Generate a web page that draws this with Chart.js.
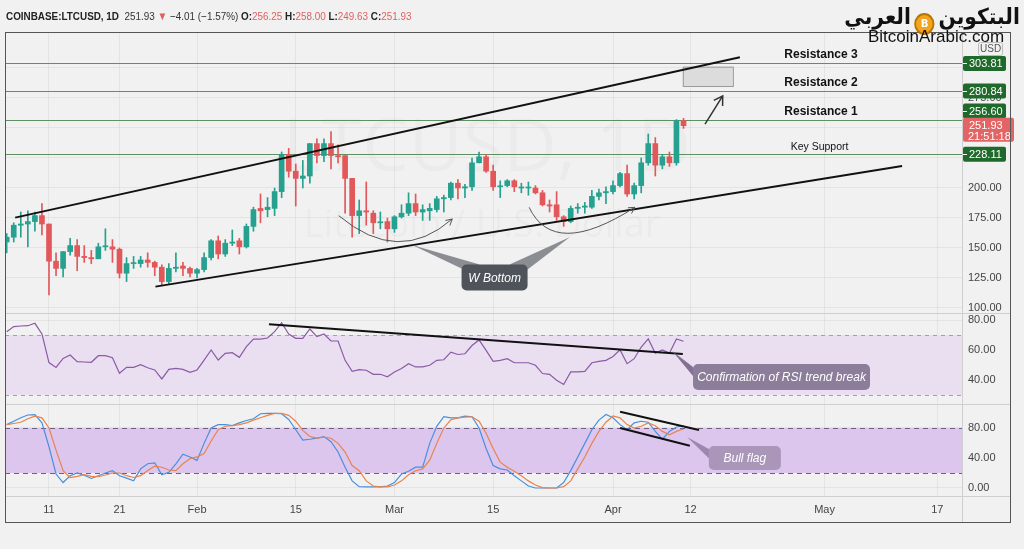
<!DOCTYPE html>
<html>
<head>
<meta charset="utf-8">
<script src="https://cdn.jsdelivr.net/npm/chart.js@4.4.0/dist/chart.umd.min.js"></script>
<style>
  body { margin: 0; background: #f1f1f1; width: 1024px; height: 549px; overflow: hidden; position: relative; font-family: "Liberation Sans", Arial, sans-serif; }
  #chart { position: absolute; left: 0; top: 0; }
  #hdr { position: absolute; left: 6px; top: 10px; font-size: 11.5px; color: #333; white-space: nowrap; transform: scaleX(0.86); transform-origin: left top; }
  #hdr b { font-weight: bold; color: #222; }
  #hdr .r { color: #e06060; }
  #logo { position: absolute; right: 4px; top: 4px; direction: rtl; font-family: "DejaVu Sans", sans-serif; font-weight: bold; font-size: 22px; color: #111; white-space: nowrap; transform: scaleX(0.92); transform-origin: right top; }
  #logo .coin { display: inline-block; width: 18px; height: 18px; border-radius: 50%; background: #f2a41c; border: 2px solid #b87500; vertical-align: -3px; margin: 0 4px; color: #fff; font-size: 11px; line-height: 18px; text-align: center; direction: ltr; }
  #site { position: absolute; left: 868px; top: 27px; font-size: 17px; color: #111; }
</style>
</head>
<body>
<canvas id="chart" width="1024" height="549"></canvas>
<div id="hdr"><b>COINBASE:LTCUSD, 1D</b>&nbsp; 251.93 <span class="r">▼</span> −4.01 (−1.57%) <b>O:</b><span class="r">256.25</span> <b>H:</b><span class="r">258.00</span> <b>L:</b><span class="r">249.63</span> <b>C:</b><span class="r">251.93</span></div>
<div id="logo"><span>البتكوين</span><span class="coin">B</span><span>العربي</span></div>
<div id="site">BitcoinArabic.com</div>
<script>
// daily candles, Jan 5 -> Apr 11 2021 (day 0 = Jan 1)
const firstDay = 4;

const openP = [
  155, 159, 169, 170, 172, 177, 170, 139, 133, 147,
  152, 143, 142, 141, 151, 151, 149, 129, 137, 137,
  140, 138, 134, 122, 133, 135, 133, 129, 132, 142,
  156, 145, 154, 156, 151, 168, 183, 182, 183, 197,
  228, 214, 208, 210, 237, 227, 237, 227, 227, 208,
  177, 181, 179, 171, 172, 166, 176, 179, 187, 180,
  181, 182, 191, 192, 204, 200, 201, 221, 226, 214,
  201, 202, 206, 200, 200, 200, 196, 186, 186, 176,
  172, 183, 184, 184, 193, 196, 197, 202, 212, 195,
  202, 221, 237, 219, 226, 221, 256.25
];
const highP = [
  162, 171, 180, 181, 180, 187, 170, 146, 147, 158,
  157, 152, 148, 154, 166, 157, 150, 142, 143, 143,
  146, 139, 136, 137, 146, 138, 134, 133, 146, 157,
  160, 157, 165, 158, 170, 184, 195, 192, 200, 230,
  233, 220, 223, 237, 241, 241, 247, 236, 227, 208,
  190, 205, 181, 180, 175, 177, 186, 196, 195, 186,
  187, 193, 194, 205, 207, 203, 225, 230, 228, 219,
  206, 207, 207, 204, 205, 202, 198, 190, 197, 177,
  185, 187, 188, 198, 199, 201, 206, 213, 219, 204,
  225, 245, 242, 228, 230, 257, 258
];
const lowP = [
  146, 155, 159, 151, 164, 161, 111, 127, 126, 144,
  131, 138, 137, 141, 148, 138, 125, 122, 133, 134,
  134, 127, 119, 120, 130, 127, 126, 125, 130, 140,
  141, 143, 152, 145, 150, 164, 171, 176, 177, 192,
  209, 185, 200, 204, 221, 222, 216, 221, 179, 159,
  162, 169, 162, 166, 155, 163, 175, 177, 177, 173,
  173, 180, 180, 190, 191, 192, 198, 221, 213, 198,
  192, 201, 197, 196, 194, 195, 185, 180, 173, 168,
  171, 179, 179, 183, 190, 187, 195, 201, 193, 191,
  196, 219, 210, 216, 218, 219, 249.63
];
const closeP = [
  159, 169, 170, 172, 177, 170, 139, 133, 147, 152,
  143, 142, 141, 151, 151, 149, 129, 137, 137, 140,
  138, 134, 122, 133, 134, 133, 129, 132, 142, 156,
  145, 154, 155, 151, 168, 182, 181, 184, 197, 228,
  214, 208, 210, 237, 227, 237, 227, 226, 208, 177,
  181, 180, 171, 171, 166, 176, 179, 187, 180, 182,
  183, 191, 192, 204, 200, 201, 221, 226, 214, 201,
  201, 206, 201, 200, 200, 196, 186, 185, 176, 172,
  183, 184, 185, 193, 196, 197, 202, 212, 195, 202,
  221, 237, 219, 226, 221, 256.25, 251.93
];

const rsi = [
  72.2, 75.6, 76.0, 76.2, 77.8, 70.7, 51.6, 48.4, 54.4, 56.7,
  52.2, 52.0, 51.8, 56.2, 56.2, 54.9, 44.5, 48.4, 48.4, 50.2,
  48.2, 46.7, 40.7, 47.1, 47.8, 47.1, 45.1, 46.7, 53.3, 60.0,
  53.3, 57.8, 58.2, 55.1, 62.2, 67.3, 67.3, 68.0, 72.2, 78.2,
  70.7, 67.8, 67.8, 74.0, 68.9, 70.7, 66.0, 66.0, 53.1, 45.8,
  46.9, 46.5, 43.8, 43.8, 42.1, 45.4, 47.6, 50.9, 48.7, 48.7,
  49.8, 53.1, 53.5, 58.6, 57.0, 57.5, 63.0, 66.7, 59.7, 52.4,
  53.1, 54.2, 51.5, 51.5, 51.5, 49.8, 44.3, 43.8, 39.9, 37.0,
  45.4, 45.4, 45.8, 51.5, 52.4, 53.1, 55.7, 60.1, 50.9, 54.2,
  61.9, 67.4, 57.9, 60.1, 57.9, 67.4, 65.8
];
const stochK = [
  84.5, 89, 93.6, 97.3, 97.7, 86.8, 55, 18.6, 7.3, 16.4,
  20, 17, 12.7, 16.4, 20, 23.2, 16.4, 13.2, 9.5, 25.5,
  32.3, 33.6, 17.7, 20.9, 32.3, 45, 41.4, 36.8, 59.5, 80,
  84.5, 84.5, 83.2, 86.8, 90, 92.3, 99, 99.5, 99.5, 99,
  91.4, 77.7, 64, 65, 66.4, 68.6, 61.8, 48, 27.7, 9.5,
  1.8, 1.4, 1.4, 1.4, 2.7, 7.3, 18.6, 22.3, 27.7, 27.7,
  59.5, 82.3, 95, 93.6, 93.6, 95.9, 95, 80, 52.7, 30,
  25.5, 24, 16.4, 9.5, 2.7, 0, 0, 0, 0, 7.3,
  23.2, 41.4, 59.5, 77.7, 90.5, 98, 93.6, 84.5, 77.7, 86.8,
  89, 87.7, 75.5, 65, 75.5, 81.4, 83
];
const stochD = [
  84.5, 86, 87.7, 92.3, 95.9, 93.6, 80, 50.5, 23, 14,
  15.5, 17.7, 15.5, 15, 17.3, 20, 20, 16.4, 14, 16.4,
  23.2, 29, 27.7, 24, 23.2, 32.3, 39, 41.4, 46, 62.7,
  77.7, 82.3, 83.2, 84.5, 86.8, 90.5, 93.6, 96.8, 99.5, 99.5,
  96.8, 89, 76.8, 68.6, 66.4, 67.7, 66.4, 59.5, 48, 30,
  23, 9.5, 2.7, 1.4, 1.4, 4, 9.5, 17.7, 23, 25.5,
  37, 59.5, 80, 91, 93.6, 94.5, 95, 89, 73, 52.7,
  34.5, 27.7, 22.3, 16.4, 9.5, 4, 0.5, 0, 0, 1.8,
  9.5, 25.5, 41.4, 59.5, 75.5, 87.7, 96, 93.6, 84.5, 80,
  82.3, 86.8, 83, 75.5, 71, 75.5, 78.6
];

const tickDays = [10, 20, 31, 45, 59, 73, 90, 101, 120, 136];
const tickLabels = ["11", "21", "Feb", "15", "Mar", "15", "Apr", "12", "May", "17"];
const priceTicks = [100, 125, 150, 175, 200, 225, 250, 275, 300];
const rsiTicks = [40, 60, 80];
const stochTicks = [0, 40, 80];

// drawings (day, value)
const channelUpper = [{ x: 5.2, y: 175.3 }, { x: 108.0, y: 308.9 }];
const channelLower = [{ x: 25.1, y: 117.8 }, { x: 131.0, y: 218.3 }];
const rsiTrend = [{ x: 41.2, y: 77.1 }, { x: 99.9, y: 57.3 }];
const flagUpper = [{ x: 91.0, y: 101.7 }, { x: 102.2, y: 77.3 }];
const flagLower = [{ x: 91.0, y: 80 }, { x: 100.9, y: 56.4 }];

const levels = [303.81, 280.84, 256.60, 228.11];
const levelNames = ["Resistance 3", "Resistance 2", "Resistance 1", "Key Support"];
const lastPrice = 251.93;

const days = closeP.map((_, i) => firstDay + i);
const candleColor = closeP.map((c, i) => (c >= openP[i] ? "#26a08f" : "#e2585a"));

const GREEN_LINE = "#5f8f63";

function xy(chart, axis, x, y) {
  return [chart.scales.x.getPixelForValue(x), chart.scales[axis].getPixelForValue(y)];
}

function roundRect(ctx, x, y, w, h, r) {
  ctx.beginPath();
  ctx.moveTo(x + r, y);
  ctx.arcTo(x + w, y, x + w, y + h, r);
  ctx.arcTo(x + w, y + h, x, y + h, r);
  ctx.arcTo(x, y + h, x, y, r);
  ctx.arcTo(x, y, x + w, y, r);
  ctx.closePath();
}

function callout(ctx, cx, cy, w, h, fill, tailFill, tails, text) {
  const left = cx - w / 2, top = cy - h / 2;
  ctx.fillStyle = tailFill;
  tails.forEach((t) => {
    ctx.beginPath();
    ctx.moveTo(t.tip[0], t.tip[1]);
    ctx.lineTo(left + t.a[0], top + t.a[1]);
    ctx.lineTo(left + t.b[0], top + t.b[1]);
    ctx.closePath();
    ctx.fill();
  });
  ctx.fillStyle = fill;
  roundRect(ctx, left, top, w, h, 5);
  ctx.fill();
  ctx.fillStyle = "#fff";
  ctx.font = 'italic 12px "Liberation Sans", Arial, sans-serif';
  ctx.textAlign = "center";
  ctx.textBaseline = "middle";
  ctx.fillText(text, cx, cy + 1);
}

function curveArrow(chart, p0, c, p2) {
  const ctx = chart.ctx;
  const a = xy(chart, "y", p0[0], p0[1]);
  const b = xy(chart, "y", c[0], c[1]);
  const e = xy(chart, "y", p2[0], p2[1]);
  ctx.strokeStyle = "#555";
  ctx.lineWidth = 1;
  ctx.beginPath();
  ctx.moveTo(a[0], a[1]);
  ctx.quadraticCurveTo(b[0], b[1], e[0], e[1]);
  ctx.stroke();
  const ang = Math.atan2(e[1] - b[1], e[0] - b[0]);
  ctx.beginPath();
  ctx.moveTo(e[0] - 7 * Math.cos(ang - 0.5), e[1] - 7 * Math.sin(ang - 0.5));
  ctx.lineTo(e[0], e[1]);
  ctx.lineTo(e[0] - 7 * Math.cos(ang + 0.5), e[1] - 7 * Math.sin(ang + 0.5));
  ctx.stroke();
}

const paneDecor = {
  id: "paneDecor",
  beforeDatasetsDraw(chart) {
    const { ctx, chartArea: a, scales } = chart;
    const R = scales.rsi, S = scales.stoch, P = scales.y;
    ctx.save();

    // watermark
    ctx.fillStyle = "rgba(0,0,0,0.022)";
    ctx.textAlign = "center";
    ctx.textBaseline = "middle";
    ctx.font = '74px "Open Sans", sans-serif';
    ctx.fillText("LTCUSD, 1D", 487, 150);
    ctx.font = '38px "Open Sans", sans-serif';
    ctx.fillText("Litecoin / U.S. Dollar", 482, 226);

    // RSI band 70-30
    let y1 = R.getPixelForValue(70), y2 = R.getPixelForValue(30);
    ctx.fillStyle = "#eadff1";
    ctx.fillRect(a.left, y1, a.right - a.left, y2 - y1);
    ctx.strokeStyle = "#a99bb3";
    ctx.setLineDash([4, 4]);
    ctx.lineWidth = 1;
    [y1, y2].forEach((y) => {
      ctx.beginPath(); ctx.moveTo(a.left, Math.round(y) + 0.5); ctx.lineTo(a.right, Math.round(y) + 0.5); ctx.stroke();
    });

    // Stoch band 80-20
    y1 = S.getPixelForValue(80); y2 = S.getPixelForValue(20);
    ctx.fillStyle = "#dcc6ee";
    ctx.fillRect(a.left, y1, a.right - a.left, y2 - y1);
    ctx.strokeStyle = "#6f5f80";
    ctx.setLineDash([5, 4]);
    [y1, y2].forEach((y) => {
      ctx.beginPath(); ctx.moveTo(a.left, Math.round(y) + 0.5); ctx.lineTo(a.right, Math.round(y) + 0.5); ctx.stroke();
    });
    ctx.setLineDash([]);

    // pane separators
    ctx.strokeStyle = "#cfcfcf";
    [R.top, S.top, a.bottom].forEach((y) => {
      ctx.beginPath(); ctx.moveTo(a.left, Math.round(y) + 0.5); ctx.lineTo(a.right + 48, Math.round(y) + 0.5); ctx.stroke();
    });
    ctx.beginPath(); ctx.moveTo(a.right + 0.5, a.top); ctx.lineTo(a.right + 0.5, a.bottom + 26); ctx.stroke();

    // horizontal levels
    ctx.strokeStyle = GREEN_LINE;
    ctx.lineWidth = 1.2;
    levels.forEach((v) => {
      const y = Math.round(P.getPixelForValue(v)) + 0.5;
      ctx.beginPath(); ctx.moveTo(a.left, y); ctx.lineTo(a.right, y); ctx.stroke();
    });

    // target box
    const [bx1, by1] = xy(chart, "y", 99.9, 301.1);
    const [bx2, by2] = xy(chart, "y", 107.0, 285);
    ctx.fillStyle = "#dcdcdc";
    ctx.strokeStyle = "#9a9a9a";
    ctx.lineWidth = 1;
    ctx.fillRect(bx1, by1, bx2 - bx1, by2 - by1);
    ctx.strokeRect(bx1 + 0.5, by1 + 0.5, bx2 - bx1, by2 - by1);
    ctx.restore();
  },
  afterDatasetsDraw(chart) {
    const { ctx, scales } = chart;
    const P = scales.y;
    ctx.save();

    // level names
    ctx.fillStyle = "#111";
    ctx.textAlign = "left";
    ctx.textBaseline = "alphabetic";
    levelNames.forEach((n, i) => {
      const y = P.getPixelForValue(levels[i]);
      if (i < 3) {
        ctx.font = 'bold 12px "Liberation Sans", Arial, sans-serif';
        ctx.fillText(n, chart.scales.x.getPixelForValue(114.3), y - 5);
      } else {
        ctx.font = '10.5px "Liberation Sans", Arial, sans-serif';
        ctx.fillText(n, chart.scales.x.getPixelForValue(115.2), y - 4);
      }
    });

    // W bottom arcs
    curveArrow(chart, [51.1, 176.9], [59.6, 135], [67.2, 174.2]);
    curveArrow(chart, [78.1, 183.9], [81.6, 140.6], [93.1, 183.9]);

    // up arrow
    const s = xy(chart, "y", 103.05, 253.3), e = xy(chart, "y", 105.56, 276.7);
    ctx.strokeStyle = "#333";
    ctx.lineWidth = 1.5;
    ctx.beginPath(); ctx.moveTo(s[0], s[1]); ctx.lineTo(e[0], e[1]); ctx.stroke();
    const ang = Math.atan2(e[1] - s[1], e[0] - s[0]);
    ctx.beginPath();
    ctx.moveTo(e[0] - 10 * Math.cos(ang - 0.55), e[1] - 10 * Math.sin(ang - 0.55));
    ctx.lineTo(e[0], e[1]);
    ctx.lineTo(e[0] - 10 * Math.cos(ang + 0.55), e[1] - 10 * Math.sin(ang + 0.55));
    ctx.stroke();

    // callouts
    let c = xy(chart, "y", 73.2, 125.4);
    let t1 = xy(chart, "y", 61.5, 152.5), t2 = xy(chart, "y", 83.9, 159.2);
    callout(ctx, c[0], c[1], 66, 26, "#4f535a", "rgba(120,124,130,0.85)",
      [{ tip: t1, a: [0, 4], b: [18, 0] }, { tip: t2, a: [48, 0], b: [66, 5] }], "W Bottom");
    c = xy(chart, "rsi", 113.9, 42);
    t1 = xy(chart, "rsi", 98.4, 59.3);
    callout(ctx, c[0], c[1], 177, 26, "#8c7d9a", "rgba(120,100,135,0.9)",
      [{ tip: t1, a: [0, 3], b: [10, 24] }], "Confirmation of RSI trend break");
    c = xy(chart, "stoch", 108.7, 40);
    t1 = xy(chart, "stoch", 100.5, 68);
    callout(ctx, c[0], c[1], 72, 24, "#a996b9", "rgba(150,128,170,0.9)",
      [{ tip: t1, a: [0, 3], b: [10, 22] }], "Bull flag");

    ctx.restore();
  },
  afterDraw(chart) {
    const { ctx, chartArea: a, scales } = chart;
    const P = scales.y;
    ctx.save();
    ctx.font = '11px "Liberation Sans", Arial, sans-serif';
    ctx.textBaseline = "middle";
    ctx.textAlign = "left";

    // price tags
    levels.forEach((v) => {
      let y = P.getPixelForValue(v);
      if (Math.abs(y - P.getPixelForValue(lastPrice)) < 12) y -= 9;
      ctx.fillStyle = "#1f6a2b";
      roundRect(ctx, a.right + 1, y - 7.5, 43, 15, 2);
      ctx.fill();
      ctx.fillStyle = "#fff";
      ctx.fillRect(a.right + 1, Math.round(y), 4, 1);
      ctx.fillText(v.toFixed(2), a.right + 7, y + 0.5);
    });

    // last price tag
    const yl = P.getPixelForValue(lastPrice);
    ctx.fillStyle = "#e36464";
    roundRect(ctx, a.right + 1, yl - 8, 51, 24, 2);
    ctx.fill();
    ctx.fillStyle = "#fff";
    ctx.fillText(lastPrice.toFixed(2), a.right + 7, yl);
    ctx.fillText("21:51:18", a.right + 6, yl + 11);

    // USD box
    ctx.strokeStyle = "#bbb";
    ctx.fillStyle = "#f1f1f1";
    roundRect(ctx, 978.5, 42.5, 24, 13, 2);
    ctx.fill(); ctx.stroke();
    ctx.fillStyle = "#555";
    ctx.font = '10px "Liberation Sans", Arial, sans-serif';
    ctx.fillText("USD", 980, 49.5);

    // frame
    ctx.strokeStyle = "#555";
    ctx.lineWidth = 1;
    ctx.strokeRect(a.left + 0.5, a.top + 0.5, 1010 - a.left, a.bottom + 26 - a.top);
    ctx.restore();
  }
};

function lineSet(points, axis) {
  return {
    type: "line", data: points, yAxisID: axis, borderColor: "#111", borderWidth: 2,
    pointRadius: 0, order: 0
  };
}

const yBase = {
  type: "linear", position: "right", stack: "panes",
  grid: { color: "rgba(0,0,0,0.05)", drawTicks: false },
  border: { display: false },
  ticks: {
    color: "#444", padding: 6, font: { size: 11, family: '"Liberation Sans", Arial, sans-serif' },
    includeBounds: false, callback: (v) => v.toFixed(2)
  },
  afterFit: (s) => { s.width = 48; }
};

new Chart(document.getElementById("chart"), {
  type: "bar",
  data: {
    datasets: [
      lineSet(channelUpper, "y"),
      lineSet(channelLower, "y"),
      lineSet(rsiTrend, "rsi"),
      lineSet(flagUpper, "stoch"),
      lineSet(flagLower, "stoch"),
      {
        type: "bar", order: 1, yAxisID: "y", grouped: false, barThickness: 5, minBarLength: 1,
        data: days.map((d, i) => ({ x: d, y: [openP[i], closeP[i]] })),
        backgroundColor: candleColor
      },
      {
        type: "bar", order: 2, yAxisID: "y", grouped: false, barThickness: 1,
        data: days.map((d, i) => ({ x: d, y: [lowP[i], highP[i]] })),
        backgroundColor: candleColor
      },
      {
        type: "line", order: 3, yAxisID: "rsi", borderColor: "#8a5aa6", borderWidth: 1.2, pointRadius: 0,
        data: days.map((d, i) => ({ x: d, y: rsi[i] }))
      },
      {
        type: "line", order: 3, yAxisID: "stoch", borderColor: "#e8834e", borderWidth: 1.2, pointRadius: 0,
        data: days.map((d, i) => ({ x: d, y: stochD[i] }))
      },
      {
        type: "line", order: 3, yAxisID: "stoch", borderColor: "#4a8fdc", borderWidth: 1.2, pointRadius: 0,
        data: days.map((d, i) => ({ x: d, y: stochK[i] }))
      }
    ]
  },
  options: {
    responsive: false,
    animation: false,
    events: [],
    layout: { padding: { left: 5, top: 32, right: 14, bottom: 27 } },
    plugins: { legend: { display: false }, tooltip: { enabled: false } },
    scales: {
      x: {
        type: "linear", min: 3.76, max: 139.5, offset: false,
        grid: { color: "rgba(0,0,0,0.05)", drawTicks: false, offset: false },
        border: { display: false },
        afterBuildTicks: (s) => { s.ticks = tickDays.map((v) => ({ value: v })); },
        ticks: {
          autoSkip: false, maxRotation: 0, padding: 7, color: "#444",
          font: { size: 11, family: '"Liberation Sans", Arial, sans-serif' },
          callback: (v) => tickLabels[tickDays.indexOf(v)]
        },
        afterFit: (s) => { s.height = 26; }
      },
      y: Object.assign({}, yBase, {
        min: 95.83, max: 330, stackWeight: 281,
        afterBuildTicks: (s) => { s.ticks = priceTicks.map((v) => ({ value: v })); }
      }),
      rsi: Object.assign({}, yBase, {
        min: 24, max: 84.67, stackWeight: 91,
        afterBuildTicks: (s) => { s.ticks = rsiTicks.map((v) => ({ value: v })); }
      }),
      stoch: Object.assign({}, yBase, {
        min: -10.67, max: 112, stackWeight: 92,
        afterBuildTicks: (s) => { s.ticks = stochTicks.map((v) => ({ value: v })); }
      })
    }
  },
  plugins: [paneDecor]
});
</script>
</body>
</html>
